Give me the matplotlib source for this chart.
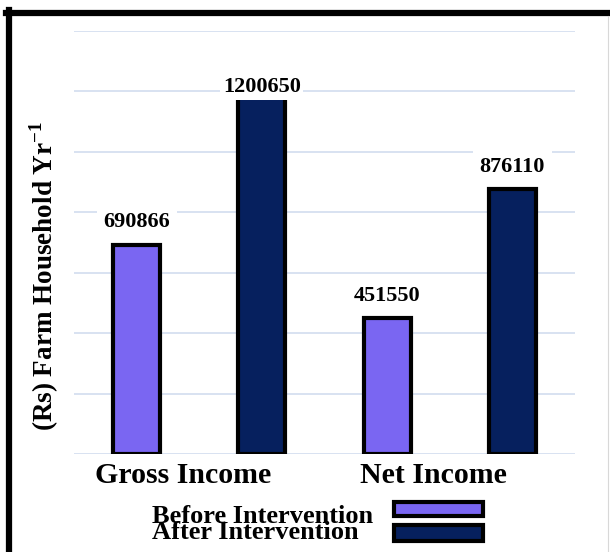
import matplotlib
matplotlib.use("Agg")
import matplotlib.pyplot as plt
from matplotlib.patches import Rectangle
from matplotlib.lines import Line2D

# ---- data ----
groups = ["Gross Income", "Net Income"]
series_names = ["Before Intervention", "After Intervention"]
before = [690866, 451550]
after = [1200650, 876110]
y_label = "(Rs) Farm Household Yr$^{\\mathbf{-1}}$"

# ---- style ----
colors = ["#7a66f2", "#06205e"]
FONT = "Liberation Serif"
plt.rcParams["font.family"] = [FONT, "DejaVu Serif"]
plt.rcParams["mathtext.fontset"] = "custom"
plt.rcParams["mathtext.rm"] = FONT
plt.rcParams["mathtext.bf"] = FONT + ":bold"

W, H = 610, 552
fig = plt.figure(figsize=(W / 100, H / 100), dpi=100)
ax = fig.add_axes([74 / W, (H - 454) / H, (575 - 74) / W, (454 - 31) / H])

# bar positions: before/after alternate
xs, vals, cols = [], [], []
for i in range(len(groups)):
    xs += [2 * i, 2 * i + 1]
    vals += [before[i], after[i]]
    cols += [colors[0], colors[1]]

bars = ax.bar(xs, vals, width=0.375, color=cols, edgecolor="black",
              linewidth=3, zorder=2)

# value labels (offset in pixels above bar top, bbox pad)
label_offsets_px = [23, 4, 22, 22]
label_pads = [0.3, 0.12, 0.3, 0.3]
for b, v, off, pad in zip(bars, vals, label_offsets_px, label_pads):
    ax.annotate(f"{v}", (b.get_x() + b.get_width() / 2, v),
                xytext=(0, off * 0.72), textcoords="offset points",
                ha="center", va="center", fontsize=16, fontweight="bold",
                zorder=5,
                bbox=dict(boxstyle=f"square,pad={pad}", fc="white", ec="none"))

ax.set_xlim(-0.5, 3.5)
ax.set_ylim(0, 1400000)
ax.set_yticks(range(0, 1400001, 200000))
ax.yaxis.grid(True, color="#d5dff0", linewidth=1.3, zorder=0)
ax.set_axisbelow(True)
ax.tick_params(axis="y", length=0, labelleft=False)
ax.set_xticks([2 * i + 0.37 for i in range(len(groups))])
ax.set_xticklabels(groups, fontsize=21.5, fontweight="bold")
ax.tick_params(axis="x", length=0, pad=6)
for s in ax.spines.values():
    s.set_visible(False)

fig.text(44 / W, 1 - 276 / H, y_label, rotation=90, ha="center", va="center",
         fontsize=19.5, fontweight="bold")

# manual legend
text_base = [523, 539]
patch_box = [(394.5, 501.5, 89, 14.5), (394.5, 524.5, 89, 16)]
for name, col, yb, (px, py, pw, ph) in zip(series_names, colors, text_base, patch_box):
    fig.text(152 / W, 1 - yb / H, name, ha="left", va="baseline",
             fontsize=19, fontweight="bold")
    fig.patches.append(Rectangle((px / W, 1 - (py + ph) / H), pw / W, ph / H,
                                 transform=fig.transFigure, facecolor=col,
                                 edgecolor="black", linewidth=3))

# border
fig.lines.append(Line2D([6 / W, 1], [1 - 13 / H, 1 - 13 / H], transform=fig.transFigure,
                        color="black", linewidth=4.5))
fig.lines.append(Line2D([9 / W, 9 / W], [0, 1 - 10 / H], transform=fig.transFigure,
                        color="black", linewidth=4.5))
fig.lines.append(Line2D([608 / W, 608 / W], [0, 1 - 16 / H], transform=fig.transFigure,
                        color="#d8d8d8", linewidth=0.8))

fig.savefig("out.png", dpi=100, facecolor="white")
